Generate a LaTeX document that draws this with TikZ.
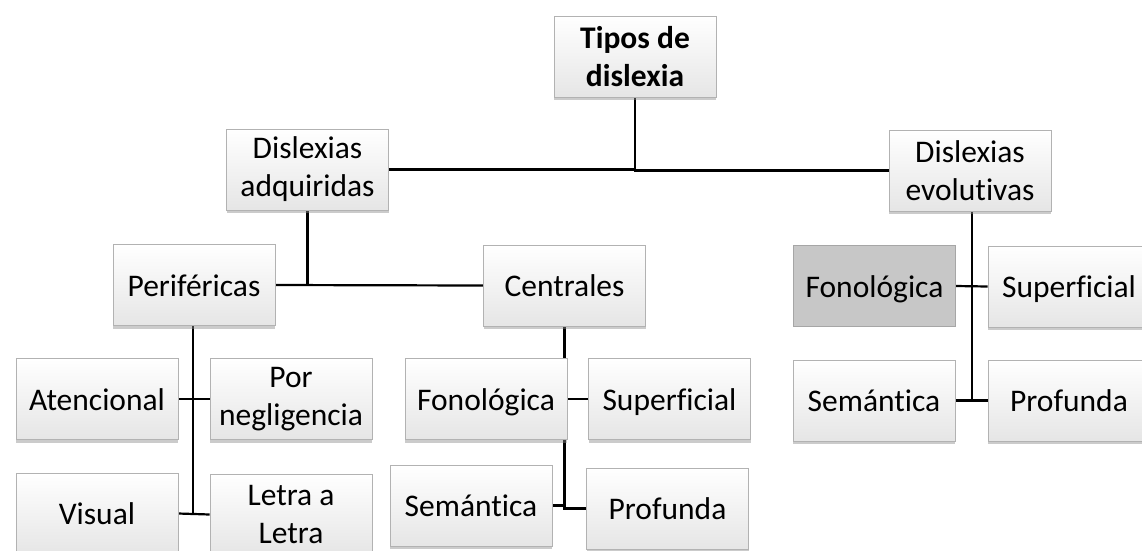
\documentclass[tikz,border=0pt]{standalone}
\usepackage{fontspec}
\setmainfont{Carlito}[Ligatures=NoCommon]
\usetikzlibrary{shadows}
\pgfdeclarelayer{background}
\pgfdeclarelayer{paper}
\pgfsetlayers{paper,background,main}
\newcommand{\ms}{\rule[-0.18em]{0pt}{1.08em}}
\begin{document}
\begin{tikzpicture}[x=1pt,y=-1pt,
  box/.style={draw=black!30, line width=0.6pt, minimum width=162pt, minimum height=81pt,
    top color=white, bottom color=black!10, align=center, inner sep=2pt,
    font=\fontsize{31.5}{38}\selectfont,
    drop shadow={shadow xshift=0pt, shadow yshift=-3pt, fill=black!45, opacity=0.45}},
  graybox/.style={draw=black!35, line width=0.6pt, minimum width=162pt, minimum height=81pt,
    fill=black!22, align=center, inner sep=2pt, font=\fontsize{31.5}{38}\selectfont},
  conn/.style={line width=2.2pt, black}]
\useasboundingbox (0,0) rectangle (1142,550);
\begin{pgfonlayer}{paper}
\fill[white] (0,0) rectangle (1142,550);
\end{pgfonlayer}
\node[box, font=\fontsize{31.5}{38}\selectfont\bfseries] (top) at (635,56.5) {Tipos de\\dislexia};
\node[box] (adq) at (307.5,169.5) {Dislexias\\adquiridas};
\node[box] (evo) at (970,170.5) {Dislexias\\evolutivas};
\node[box] (per) at (194,285) {\ms Periféricas};
\node[box] (cen) at (564.5,285.5) {\ms Centrales};
\node[graybox] (fonR) at (874.5,286) {\ms Fonológica};
\node[box] (supR) at (1069,286.5) {\ms Superficial};
\node[box] (semR) at (874,400.5) {\ms Semántica};
\node[box] (proR) at (1069,400.5) {\ms Profunda};
\node[box] (ate) at (97,399) {\ms Atencional};
\node[box] (neg) at (291,399) {Por\\negligencia};
\node[box] (vis) at (97,513.5) {\ms Visual};
\node[box] (let) at (291,514.5) {Letra a\\Letra};
\node[box] (fonC) at (486,399) {\ms Fonológica};
\node[box] (supC) at (669.5,399) {\ms Superficial};
\node[box] (semC) at (471,505.5) {\ms Semántica};
\node[box] (proC) at (667.5,508.5) {\ms Profunda};
\coordinate (evoX) at (972,0);
\coordinate (perX) at (193,0);
\begin{pgfonlayer}{background}
\draw[conn] (top.south) -- (top.south |- evo.west) -- (evo.west);
\draw[conn] (adq.east) -- (top.south |- adq.east);
\draw[conn] (adq.south) -- (adq.south |- cen.west);
\draw[conn] (per.east) -- (cen.west);
\draw[conn] (perX |- per.south) -- (perX |- let.west);
\draw[conn] (ate.east) -- (neg.west);
\draw[conn] (vis.east) -- (let.west);
\draw[conn] (cen.south) -- (cen.south |- proC.west) -- (proC.west);
\draw[conn] (fonC.east) -- (supC.west);
\draw[conn] (semC.east) -- (cen.south |- semC.east);
\draw[conn] (evoX |- evo.south) -- (evoX |- semR.east);
\draw[conn] (fonR.east) -- (supR.west);
\draw[conn] (semR.east) -- (proR.west);
\end{pgfonlayer}
\end{tikzpicture}
\end{document}
